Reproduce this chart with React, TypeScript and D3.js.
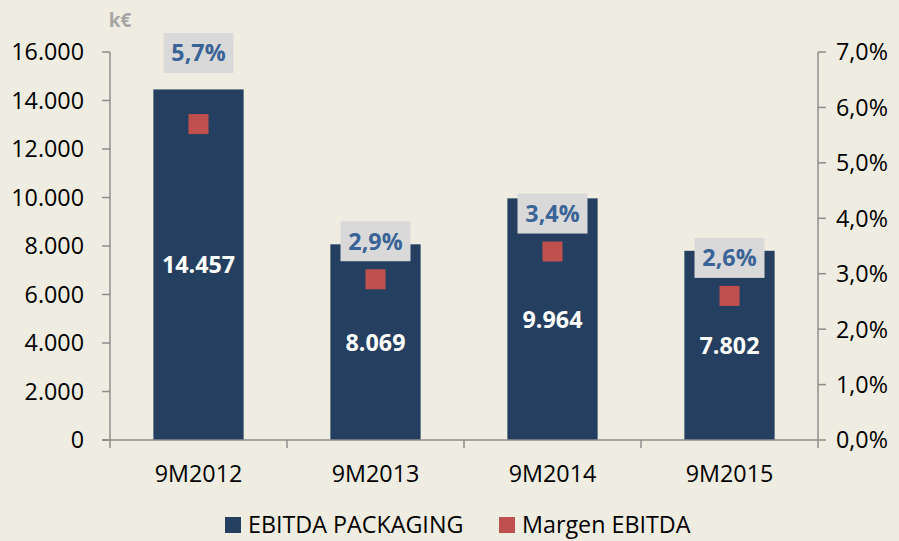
import React from 'react';
import * as d3 from 'd3';

const categories = ['9M2012', '9M2013', '9M2014', '9M2015'];
const ebitda = [14457, 8069, 9964, 7802];
const margin = [5.7, 2.9, 3.4, 2.6];
const leftTicks = [0, 2000, 4000, 6000, 8000, 10000, 12000, 14000, 16000];
const rightTicks = [0, 1, 2, 3, 4, 5, 6, 7];
const seriesNames = ['EBITDA PACKAGING', 'Margen EBITDA'];

const W = 899;
const H = 541;
const FONT = "'Open Sans', sans-serif";
const FS = 23.3;
const BG = '#efede1';
const BAR = '#253f60';
const RED = '#c0504d';
const AXIS = '#8c8c8c';
const LABEL_BLUE = '#3a6397';

// es-ES style numbers: 14.457 / 5,7%
const fmtThousands = (v: number) => d3.format(',')(v).replace(/,/g, '.');
const fmtPct = (v: number) => v.toFixed(1).replace('.', ',') + '%';

export default function App() {
  const left = 110;
  const right = 818;
  const top = 52;
  const bottom = 440;

  const x = d3.scaleBand<string>().domain(categories).range([left, right]).paddingInner(0.49).paddingOuter(0.245);
  const y = d3.scaleLinear().domain([0, 16000]).range([bottom, top]);
  const yR = d3.scaleLinear().domain([0, 7]).range([bottom, top]);
  const band = d3.scaleBand<string>().domain(categories).range([left, right]);

  return (
    <svg width={W} height={H} style={{ position: 'absolute', left: 0, top: 0, display: 'block' }}>
      <rect width={W} height={H} fill={BG} />

      {/* k€ unit */}
      <text x={120} y={27} textAnchor="middle" fontFamily={FONT} fontWeight="bold" fontSize={19} fill="#a6a6a6">k€</text>

      {/* bars */}
      {categories.map((c, i) => (
        <rect key={c} x={x(c)} y={y(ebitda[i])} width={x.bandwidth()} height={bottom - y(ebitda[i])} fill={BAR} />
      ))}

      {/* left axis */}
      <line x1={left} x2={left} y1={top} y2={bottom} stroke={AXIS} strokeWidth={1.5} />
      {leftTicks.map(t => (
        <g key={t}>
          <line x1={left - 8} x2={left} y1={y(t)} y2={y(t)} stroke={AXIS} strokeWidth={1.5} />
          <text x={left - 26} y={y(t)} dy="0.36em" textAnchor="end" fontFamily={FONT} fontSize={FS} fill="#000">{fmtThousands(t)}</text>
        </g>
      ))}

      {/* right axis */}
      <line x1={right} x2={right} y1={top} y2={bottom + 8} stroke={AXIS} strokeWidth={1.5} />
      {rightTicks.map(t => (
        <g key={t}>
          <line x1={right} x2={right + 8} y1={yR(t)} y2={yR(t)} stroke={AXIS} strokeWidth={1.5} />
          <text x={right + 18} y={yR(t)} dy="0.36em" textAnchor="start" fontFamily={FONT} fontSize={FS} fill="#000">{fmtPct(t)}</text>
        </g>
      ))}

      {/* bottom axis */}
      <line x1={left - 8} x2={right} y1={bottom} y2={bottom} stroke={AXIS} strokeWidth={1.5} />
      {categories.map(c => (
        <line key={c} x1={band(c)!} x2={band(c)!} y1={bottom} y2={bottom + 8} stroke={AXIS} strokeWidth={1.5} />
      ))}
      {categories.map(c => (
        <text key={c} x={band(c)! + band.bandwidth() / 2} y={482} textAnchor="middle" fontFamily={FONT} fontSize={FS} fill="#000">{c}</text>
      ))}

      {/* bar value labels */}
      {categories.map((c, i) => (
        <text key={c} x={x(c)! + x.bandwidth() / 2} y={(y(ebitda[i]) + bottom) / 2} dy="0.36em" textAnchor="middle"
          fontFamily={FONT} fontWeight="bold" fontSize={FS} fill="#fff">{fmtThousands(ebitda[i])}</text>
      ))}

      {/* margin markers */}
      {categories.map((c, i) => {
        const cx = x(c)! + x.bandwidth() / 2;
        const cy = yR(margin[i]);
        return <rect key={c} x={cx - 10} y={cy - 10} width={20} height={20} fill={RED} />;
      })}

      {/* margin labels (first one was dragged up to the top of the plot) */}
      {categories.map((c, i) => {
        const cx = x(c)! + x.bandwidth() / 2;
        const cy = i === 0 ? top + 1 : yR(margin[i]) - 38;
        return (
          <g key={c}>
            <rect x={cx - 35} y={cy - 20} width={70} height={40} fill="#d9d9d9" />
            <text x={cx} y={cy} dy="0.36em" textAnchor="middle" fontFamily={FONT} fontWeight="bold" fontSize={FS} fill={LABEL_BLUE}>{fmtPct(margin[i])}</text>
          </g>
        );
      })}

      {/* legend */}
      <rect x={225} y={517} width={16} height={16} fill={BAR} />
      <text x={248} y={533} fontFamily={FONT} fontSize={FS} fill="#000">{seriesNames[0]}</text>
      <rect x={499} y={517} width={16} height={16} fill={RED} />
      <text x={522} y={533} fontFamily={FONT} fontSize={FS} fill="#000">{seriesNames[1]}</text>
    </svg>
  );
}
